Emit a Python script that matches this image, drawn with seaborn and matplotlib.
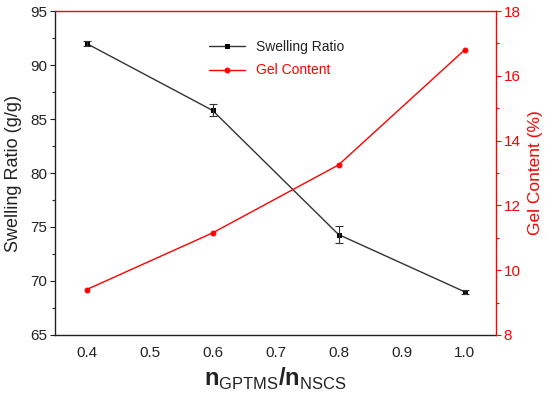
import pandas as pd
import matplotlib.pyplot as plt
from matplotlib.ticker import MultipleLocator
import seaborn as sns

# Data
ratio = [0.4, 0.6, 0.8, 1.0]
swelling = [92.0, 85.8, 74.3, 69.0]
swelling_err = [0.25, 0.55, 0.75, 0.2]
gel = [9.4, 11.15, 13.25, 16.8]

df = pd.DataFrame({"ratio": ratio, "swelling": swelling, "err": swelling_err, "gel": gel})

sns.set_style("white")
plt.rcParams['font.family'] = ['Liberation Sans', 'DejaVu Sans']
plt.rcParams['mathtext.fontset'] = 'custom'
plt.rcParams['mathtext.rm'] = 'Liberation Sans'
plt.rcParams['mathtext.bf'] = 'Liberation Sans:bold'

fig, ax = plt.subplots(figsize=(5.5, 3.95), dpi=100)
fig.subplots_adjust(left=0.1, right=0.902, top=0.972, bottom=0.152)
ax2 = ax.twinx()

# Swelling ratio (left axis)
sns.lineplot(data=df, x="ratio", y="swelling", ax=ax, color="#333333", linewidth=1.0,
             marker="s", markersize=3.5, markeredgecolor="black", markerfacecolor="black",
             label="Swelling Ratio", legend=False)
ax.errorbar(df["ratio"], df["swelling"], yerr=df["err"], fmt="none", ecolor="#333333",
            elinewidth=0.8, capsize=3, capthick=0.8)

# Gel content (right axis)
sns.lineplot(data=df, x="ratio", y="gel", ax=ax2, color="red", linewidth=1.0,
             marker="o", markersize=3.5, markeredgecolor="red", markerfacecolor="red",
             label="Gel Content", legend=False)

ax.set_xlim(0.35, 1.05)
ax.set_ylim(65, 95)
ax2.set_ylim(8, 18)
ax.set_xticks([0.4, 0.5, 0.6, 0.7, 0.8, 0.9, 1.0])
ax.set_yticks([65, 70, 75, 80, 85, 90, 95])
ax.yaxis.set_minor_locator(MultipleLocator(2.5))
ax2.set_yticks([8, 10, 12, 14, 16, 18])
ax2.yaxis.set_minor_locator(MultipleLocator(1))

ax.tick_params(axis="y", which="both", direction="out", left=True, length=3.5, width=0.8,
               labelsize=11, colors="#222222", pad=2)
ax.tick_params(axis="y", which="minor", length=2.5)
ax.tick_params(axis="x", direction="in", bottom=True, length=0, labelsize=11, colors="#222222", pad=8)
ax2.tick_params(axis="y", which="both", direction="out", right=True, length=3.5, width=0.8,
                labelsize=11, colors="red", pad=2)
ax2.tick_params(axis="y", which="minor", length=2.5)

for s in ["left", "bottom"]:
    ax.spines[s].set_color("#222222")
    ax.spines[s].set_linewidth(1.0)
ax.spines["top"].set_visible(False)
ax.spines["right"].set_visible(False)
ax2.spines["left"].set_visible(False)
ax2.spines["bottom"].set_visible(False)
ax2.spines["right"].set_color("red")
ax2.spines["top"].set_color("red")
ax2.spines["right"].set_linewidth(1.0)
ax2.spines["top"].set_linewidth(1.0)

ax.set_ylabel("Swelling Ratio (g/g)", fontsize=13, color="#222222", labelpad=6)
ax2.set_ylabel("Gel Content (%)", fontsize=12.5, color="red", labelpad=5)
ax.set_xlabel(r"$\mathbf{n}_{\mathrm{GPTMS}}\mathbf{/n}_{\mathrm{NSCS}}$", fontsize=17, color="#222222")

h1, l1 = ax.get_legend_handles_labels()
h2, l2 = ax2.get_legend_handles_labels()
leg = ax.legend(h1[:1] + h2[:1], l1[:1] + l2[:1], loc="upper left", bbox_to_anchor=(0.32, 0.95),
                frameon=False, fontsize=10, handlelength=2.6, labelspacing=0.7)
leg.get_texts()[1].set_color("red")
leg.get_texts()[0].set_color("#222222")

plt.savefig("out.png", dpi=100)
